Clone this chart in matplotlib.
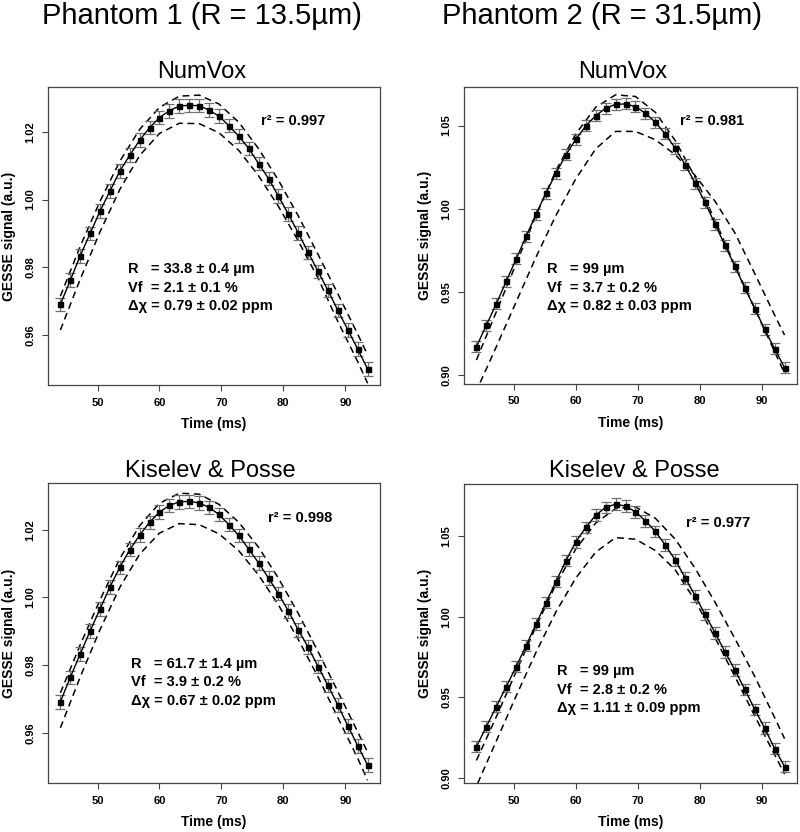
import matplotlib
matplotlib.use('Agg')
import matplotlib.pyplot as plt

plt.rcParams['font.family'] = ['Liberation Sans', 'DejaVu Sans']

# echo times (ms) of the measured points
time_ms = [44.0, 45.6, 47.2, 48.8, 50.4, 52.0, 53.6, 55.2, 56.8, 58.4, 60.0, 61.6,
           63.2, 64.8, 66.4, 68.0, 69.6, 71.2, 72.8, 74.4, 76.0, 77.6, 79.2, 80.8,
           82.4, 84.0, 85.6, 87.2, 88.8, 90.4, 92.0, 93.6]
# times where the dashed curves were read
dash_ms = [44.0, 47.2, 50.4, 53.6, 56.8, 60.0, 63.2, 66.4, 69.6, 72.8, 76.0, 79.2,
           82.4, 85.6, 88.8, 92.0, 93.6]

# Phantom 1 - NumVox
p1_numvox = [0.9691, 0.9762, 0.9834, 0.9900, 0.9966, 1.0025, 1.0084, 1.0131, 1.0175,
             1.0212, 1.0242, 1.0262, 1.0276, 1.0278, 1.0277, 1.0264, 1.0246, 1.0218,
             1.0187, 1.0151, 1.0106, 1.0062, 1.0010, 0.9957, 0.9902, 0.9844, 0.9788,
             0.9732, 0.9673, 0.9616, 0.9559, 0.9500]
p1_numvox_hi = [0.9715, 0.9862, 0.9995, 1.0113, 1.0207, 1.0272, 1.0305, 1.0308, 1.0282,
                1.0228, 1.0150, 1.0057, 0.9952, 0.9838, 0.9722, 0.9603, 0.9542]
p1_numvox_lo = [0.9615, 0.9765, 0.9905, 1.0030, 1.0130, 1.0195, 1.0225, 1.0224, 1.0197,
                1.0145, 1.0070, 0.9980, 0.9878, 0.9768, 0.9640, 0.9522, 0.9458]

# Phantom 2 - NumVox
p2_numvox = [0.9170, 0.9300, 0.9428, 0.9564, 0.9698, 0.9834, 0.9968, 1.0094, 1.0214,
             1.0324, 1.0418, 1.0498, 1.0560, 1.0604, 1.0628, 1.0630, 1.0614, 1.0574,
             1.0520, 1.0450, 1.0364, 1.0264, 1.0154, 1.0038, 0.9908, 0.9780, 0.9654,
             0.9524, 0.9400, 0.9274, 0.9158, 0.9044]
p2_numvox_hi = [0.9090, 0.9380, 0.9670, 0.9960, 1.0230, 1.0450, 1.0610, 1.0685, 1.0675,
                1.0580, 1.0410, 1.0190, 0.9930, 0.9660, 0.9400, 0.9140, 0.9010]
p2_numvox_lo_ms = [44.6, 47.2, 50.4, 53.6, 56.8, 60.0, 63.2, 66.4, 69.6, 72.8, 76.0,
                   79.2, 82.4, 85.6, 88.8, 92.0, 93.6]
p2_numvox_lo = [0.8955, 0.9170, 0.9440, 0.9710, 0.9960, 1.0180, 1.0360, 1.0465, 1.0465,
                1.0415, 1.0325, 1.0200, 1.0045, 0.9855, 0.9610, 0.9360, 0.9240]

# Phantom 1 - Kiselev & Posse
p1_kp = [0.9692, 0.9764, 0.9833, 0.9901, 0.9966, 1.0031, 1.0089, 1.0141, 1.0184,
         1.0222, 1.0252, 1.0272, 1.0282, 1.0284, 1.0279, 1.0266, 1.0245, 1.0215,
         1.0183, 1.0143, 1.0102, 1.0057, 1.0011, 0.9960, 0.9904, 0.9853, 0.9796,
         0.9740, 0.9682, 0.9621, 0.9562, 0.9505]
p1_kp_hi = [0.9718, 0.9860, 0.9993, 1.0115, 1.0212, 1.0278, 1.0308, 1.0305, 1.0275,
            1.0222, 1.0148, 1.0057, 0.9953, 0.9840, 0.9722, 0.9603, 0.9543]
p1_kp_lo = [0.9615, 0.9765, 0.9905, 1.0030, 1.0128, 1.0190, 1.0218, 1.0215, 1.0188,
            1.0138, 1.0066, 0.9978, 0.9876, 0.9765, 0.9645, 0.9525, 0.9460]

# Phantom 2 - Kiselev & Posse
p2_kp = [0.9195, 0.9319, 0.9443, 0.9567, 0.9691, 0.9821, 0.9955, 1.0087, 1.0217,
         1.0347, 1.0464, 1.0553, 1.0629, 1.0677, 1.0697, 1.0685, 1.0650, 1.0594,
         1.0528, 1.0444, 1.0351, 1.0241, 1.0130, 1.0014, 0.9901, 0.9783, 0.9670,
         0.9550, 0.9426, 0.9309, 0.9183, 0.9072]
p2_kp_hi = [0.9110, 0.9380, 0.9660, 0.9940, 1.0200, 1.0420, 1.0580, 1.0670, 1.0680,
            1.0610, 1.0480, 1.0300, 1.0090, 0.9865, 0.9630, 0.9375, 0.9245]
p2_kp_lo_ms = [44.2, 47.2, 50.4, 53.6, 56.8, 60.0, 63.2, 66.4, 69.6, 72.8, 76.0,
               79.2, 82.4, 85.6, 88.8, 92.0, 93.6]
p2_kp_lo = [0.8968, 0.9230, 0.9510, 0.9780, 1.0030, 1.0240, 1.0400, 1.0490, 1.0480,
            1.0410, 1.0290, 1.0100, 0.9870, 0.9630, 0.9385, 0.9145, 0.9025]

# error bar half widths
p1_numvox_err = 0.0020
p2_numvox_err = 0.0033
p1_kp_err = 0.0020
p2_kp_err = 0.0036

r2_labels = ['r² = 0.997', 'r² = 0.981', 'r² = 0.998', 'r² = 0.977']
fit_labels = [
    ['R   = 33.8 ± 0.4 µm', 'Vf  = 2.1 ± 0.1 %', 'Δχ = 0.79 ± 0.02 ppm'],
    ['R   = 99 µm', 'Vf  = 3.7 ± 0.2 %', 'Δχ = 0.82 ± 0.03 ppm'],
    ['R   = 61.7 ± 1.4 µm', 'Vf  = 3.9 ± 0.2 %', 'Δχ = 0.67 ± 0.02 ppm'],
    ['R   = 99 µm', 'Vf  = 2.8 ± 0.2 %', 'Δχ = 1.11 ± 0.09 ppm'],
]

W, H = 800, 832
fig = plt.figure(figsize=(W / 100, H / 100), dpi=100)


def px_axes(left, top, right, bottom):
    return fig.add_axes([left / W, 1 - bottom / H, (right - left) / W, (bottom - top) / H])


def ftext(x, y, s, **kw):
    fig.text(x / W, 1 - y / H, s, **kw)


def draw(ax, sig, err, hi_t, hi, lo_t, lo, ylim, yticks):
    ax.plot(hi_t, hi, color='black', lw=1.1, ls=(0, (4.5, 3)))
    ax.plot(lo_t, lo, color='black', lw=1.1, ls=(0, (4.5, 3)))
    ax.errorbar(time_ms, sig, yerr=err, fmt='none', ecolor='#707070',
                elinewidth=0.9, capsize=3.8, capthick=0.9)
    ax.plot(time_ms, sig, color='black', lw=1.0, marker='s', markersize=3.6)
    ax.set_xlim(42.0, 95.6)
    ax.set_ylim(*ylim)
    ax.set_xticks([50, 60, 70, 80, 90])
    ax.set_yticks(yticks)
    ax.set_yticklabels(['%.2f' % v for v in yticks], rotation=90, va='center')
    ax.tick_params(labelsize=8, length=4, width=0.8, color='#444444', pad=5)
    for lab in ax.get_xticklabels() + ax.get_yticklabels():
        lab.set_fontweight('bold')
    for sp in ax.spines.values():
        sp.set_color('#444444')
        sp.set_linewidth(0.9)
    ax.set_xlabel('Time (ms)', fontsize=10, fontweight='bold', labelpad=7)
    ax.set_ylabel('GESSE signal (a.u.)', fontsize=10, fontweight='bold', labelpad=7)


ax1 = px_axes(48, 87, 380, 385)
draw(ax1, p1_numvox, p1_numvox_err, dash_ms, p1_numvox_hi, dash_ms, p1_numvox_lo,
     (0.9453, 1.0332), [0.96, 0.98, 1.00, 1.02])
ax2 = px_axes(464, 87, 797, 384)
draw(ax2, p2_numvox, p2_numvox_err, dash_ms, p2_numvox_hi, p2_numvox_lo_ms, p2_numvox_lo,
     (0.8946, 1.0732), [0.90, 0.95, 1.00, 1.05])
ax3 = px_axes(48, 483, 380, 783)
draw(ax3, p1_kp, p1_kp_err, dash_ms, p1_kp_hi, dash_ms, p1_kp_lo,
     (0.9452, 1.0338), [0.96, 0.98, 1.00, 1.02])
ax4 = px_axes(464, 484, 797, 783)
draw(ax4, p2_kp, p2_kp_err, dash_ms, p2_kp_hi, p2_kp_lo_ms, p2_kp_lo,
     (0.8970, 1.0822), [0.90, 0.95, 1.00, 1.05])

# column and panel titles
ftext(202, 24, 'Phantom 1 (R = 13.5µm)', fontsize=21, ha='center', va='baseline')
ftext(602, 24, 'Phantom 2 (R = 31.5µm)', fontsize=21, ha='center', va='baseline')
ftext(202, 78, 'NumVox', fontsize=17, ha='center', va='baseline')
ftext(623, 78, 'NumVox', fontsize=17, ha='center', va='baseline')
ftext(210, 477, 'Kiselev & Posse', fontsize=17, ha='center', va='baseline')
ftext(634, 477, 'Kiselev & Posse', fontsize=17, ha='center', va='baseline')

# r^2 and fit parameters
r2_pos = [(261, 125), (680, 125), (268, 522), (686, 527)]
fit_pos = [(128, 273), (547, 273), (131, 668), (557, 675)]
for lab, (x, y) in zip(r2_labels, r2_pos):
    ftext(x, y, lab, fontsize=10.5, fontweight='bold', va='baseline')
for lines, (x, y) in zip(fit_labels, fit_pos):
    for k, s in enumerate(lines):
        ftext(x, y + 18.5 * k, s, fontsize=10.5, fontweight='bold', va='baseline')

fig.savefig('out.png', dpi=100)
